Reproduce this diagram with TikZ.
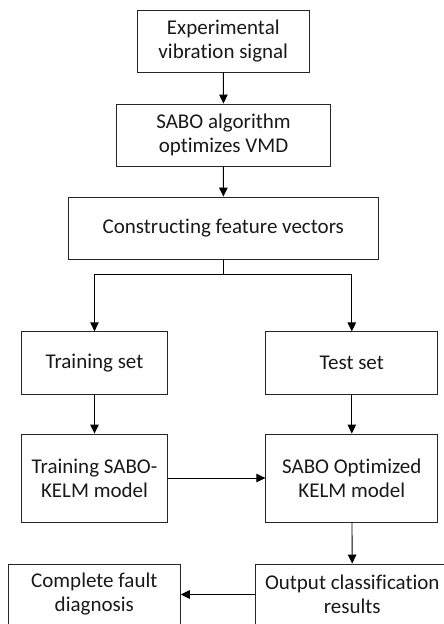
\documentclass[tikz,border=0pt]{standalone}
\usepackage{fontspec}
\setmainfont[RawFeature=-liga]{Carlito}
\usetikzlibrary{arrows.meta}
\begin{document}
\begin{tikzpicture}[x=1pt,y=-1pt,
  box/.style={draw=black!85, line width=0.9pt, inner sep=0pt, align=center,
    font=\fontsize{21}{24}\selectfont, text=black!90},
  flow/.style={line width=0.9pt, -{Triangle[length=9pt,width=8.5pt]}}]
\useasboundingbox (0,0) rectangle (444,624);
\clip (0,0) rectangle (444,624);
% process boxes
\node[box, minimum width=172pt, minimum height=62pt] (sig) at (223.3,41) {Experimental\\vibration signal};
\node[box, minimum width=214pt, minimum height=62pt] (vmd) at (223.5,135) {SABO algorithm\\optimizes VMD};
\node[box, minimum width=310pt, minimum height=62pt] (feat) at (223.3,228) {Constructing feature vectors};
\node[box, minimum width=146pt, minimum height=63pt] (train) at (94.5,363.3) {Training set};
\node[box, minimum width=172pt, minimum height=63pt] (test) at (351.8,363.3) {Test set};
\node[box, minimum width=146pt, minimum height=88pt] (kelm) at (94.5,478) {Training SABO-\\KELM model};
\node[box, minimum width=172pt, minimum height=88pt] (opt) at (351.8,478) {SABO Optimized\\KELM model};
\node[box, minimum width=172pt, minimum height=61pt] (diag) at (94.3,594.5) {Complete fault\\diagnosis};
\node[box, minimum width=194pt, minimum height=61pt] (out) at (352.3,594.5) {Output classification\\results};
% connectors
\coordinate (split) at (223.3,274);
\draw[flow] (sig) -- (vmd);
\draw[flow] (vmd) -- (feat);
\draw[line width=0.9pt] (feat) -- (split);
\draw[flow] (split) -| (train);
\draw[flow] (split) -| (test);
\draw[flow] (train) -- (kelm);
\draw[flow] (test) -- (opt);
\draw[flow] (kelm) -- (opt);
\draw[flow] (opt) -- (out);
\draw[flow] (out) -- (diag);
\end{tikzpicture}
\end{document}
